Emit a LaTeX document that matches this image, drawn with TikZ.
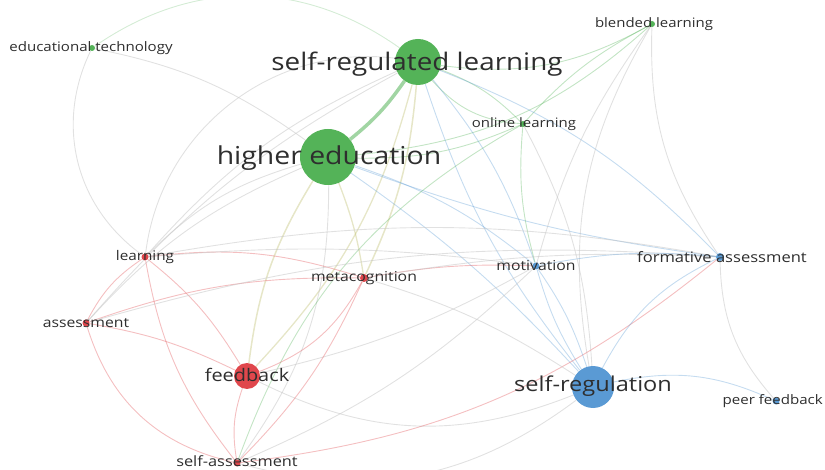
\documentclass[tikz,border=0pt]{standalone}
\usepackage{fontspec}
\setmainfont{Open Sans}[FakeStretch=1.15]
\usetikzlibrary{backgrounds}
\definecolor{cg}{HTML}{54B358}
\definecolor{cr}{HTML}{E0474C}
\definecolor{cb}{HTML}{5A9AD4}
\definecolor{cgr}{HTML}{C4C4C4}
\definecolor{cyo}{HTML}{B8B860}
\definecolor{txt}{HTML}{2E2E2E}
\tikzset{
  kw/.style={circle, inner sep=0pt, minimum size=#1},
  gdot/.style={kw=#1, fill=cg},
  rdot/.style={kw=#1, fill=cr},
  bdot/.style={kw=#1, fill=cb},
  lbl/.style={text=txt, inner sep=0pt, font=\fontsize{#1}{#1}\selectfont},
  lk/.style={line width=0.9pt, draw opacity=0.35},
  lkg/.style={lk, draw=cg},
  lkr/.style={lk, draw=cr},
  lkb/.style={lk, draw=cb},
  lkn/.style={lk, draw=cgr, draw opacity=0.5},
  lky/.style={lk, draw=cyo},
}
\begin{document}
\begin{tikzpicture}[x=1pt, y=-1pt]
\useasboundingbox (0,0) rectangle (825,470);
% keyword circles
\node[gdot=46] (srl) at (418,62) {};
\node[gdot=56] (he) at (328,157) {};
\node[gdot=6] (et) at (92,48) {};
\node[gdot=6] (bl) at (652,24) {};
\node[gdot=6] (ol) at (523,124) {};
\node[rdot=7] (le) at (145,257) {};
\node[rdot=8] (mc) at (364,278) {};
\node[bdot=7] (mo) at (536,266) {};
\node[bdot=8] (fa) at (720,257) {};
\node[rdot=7] (as) at (86,323) {};
\node[rdot=26] (fb) at (247,376) {};
\node[bdot=42] (sr) at (593,387) {};
\node[bdot=7] (pf) at (776,401) {};
\node[rdot=7] (sa) at (237,463) {};
% co-occurrence links
\begin{scope}[on background layer]
% green cluster
\draw[lkg, line width=3.5pt, draw opacity=0.55] (srl) to[bend left=8] (he);
\draw[lkg] (srl) to[bend right=18] (bl);
\draw[lkg] (srl) to[bend right=22] (ol);
\draw[lkg] (srl) to[bend left=12] (ol);
\draw[lkg] (he) to[bend right=12] (ol);
\draw[lkg] (he) to[bend right=18] (bl);
\draw[lkg] (ol) to[bend left=10] (bl);
\draw[lkn] (et) to[bend left=12] (he);
\draw[lkg, draw opacity=0.25] (et) to[bend left=35] (srl);
\draw[lkn] (et) to[bend right=40] (le);
\draw[lkn] (le) to[bend left=45] (srl);
% mixed links from the green hubs
\draw[lky, line width=1.5pt] (srl) to[bend left=10] (mc);
\draw[lky, line width=1.3pt] (srl) to[bend left=14] (fb);
\draw[lky, line width=1.3pt] (he) to[bend left=6] (mc);
\draw[lky, line width=1.5pt] (he) to[bend right=12] (fb);
\draw[lkn] (he) to[bend right=14] (le);
\draw[lkn] (he) to[bend right=12] (as);
\draw[lkn] (he) to[bend left=18] (sa);
\draw[lkn] (srl) to[bend right=12] (le);
\draw[lkn] (srl) to[bend right=10] (as);
\draw[lkb] (he) to[bend left=10] (mo);
\draw[lkb] (he) to[bend left=6] (sr);
\draw[lkb] (he) to[bend right=6] (fa);
\draw[lkb] (srl) to[bend left=10] (mo);
\draw[lkb] (srl) to[bend right=10] (sr);
\draw[lkb] (srl) to[bend left=12] (fa);
\draw[lkn] (ol) to[bend left=12] (sr);
\draw[lkg] (ol) to[bend right=10] (mo);
\draw[lkg] (ol) to[bend right=20] (sa);
\draw[lkn] (bl) to[bend right=20] (sr);
\draw[lkn] (bl) to[bend right=18] (fa);
\draw[lkn] (bl) to[bend right=10] (mo);
% red cluster
\draw[lkr] (le) to[bend right=14] (as);
\draw[lkr] (le) to[bend left=10] (fb);
\draw[lkr] (le) to[bend right=14] (sa);
\draw[lkr] (le) to[bend left=12] (mc);
\draw[lkn] (le) to[bend left=6] (mo);
\draw[lkn] (le) to[bend left=10] (fa);
\draw[lkr] (as) to[bend left=8] (fb);
\draw[lkr] (as) to[bend right=30] (sa);
\draw[lkr] (as) to[bend left=10] (mc);
\draw[lkn] (as) to[bend left=10] (fa);
\draw[lkr] (fb) to[bend right=20] (mc);
\draw[lkr] (fb) to[bend right=14] (sa);
\draw[lkn] (fb) to[bend right=24] (sr);
\draw[lkn] (fb) to[bend right=8] (mo);
\draw[lkr] (sa) to[bend right=10] (mc);
\draw[lkn] (sa) to[bend right=26] (sr);
\draw[lkr] (sa) to[bend right=16] (fa);
\draw[lkn] (sa) to[bend right=10] (mo);
\draw[lkr] (mc) to[bend left=6] (mo);
\draw[lkn] (mc) to[bend left=8] (sr);
\draw[lkn] (mc) to[bend left=6] (fa);
% blue cluster
\draw[lkb] (mo) to[bend right=8] (sr);
\draw[lkb] (mo) to[bend left=8] (sr);
\draw[lkb] (fa) to[bend right=18] (sr);
\draw[lkn] (fa) to[bend right=20] (pf);
\draw[lkb] (sr) to[bend left=18] (pf);
\draw[lkb] (mo) to[bend left=8] (fa);
\end{scope}
% keyword labels
\node[lbl=24.2] (tsrl) at (417,64) {self-regulated learning};
\node[lbl=24.7] (the) at (329,158) {higher education};
\node[lbl=13.1] (tet) at (91,48) {educational technology};
\node[lbl=13] (tbl) at (654,24) {blended learning};
\node[lbl=13] (tol) at (524,124) {online learning};
\node[lbl=13.3] (tle) at (145,257) {learning};
\node[lbl=13.7] (tmc) at (364,278) {metacognition};
\node[lbl=13.7] (tmo) at (536,266) {motivation};
\node[lbl=14.4] (tfa) at (722,257) {formative assessment};
\node[lbl=13.7] (tas) at (86,323) {assessment};
\node[lbl=17.3] (tfb) at (247,375) {feedback};
\node[lbl=20.5] (tsr) at (593,386) {self-regulation};
\node[lbl=13.1, anchor=east] (tpf) at (823,401) {peer feedback};
\node[lbl=14.2, anchor=base] (tsa) at (237,466) {self-assessment};
\end{tikzpicture}
\end{document}
